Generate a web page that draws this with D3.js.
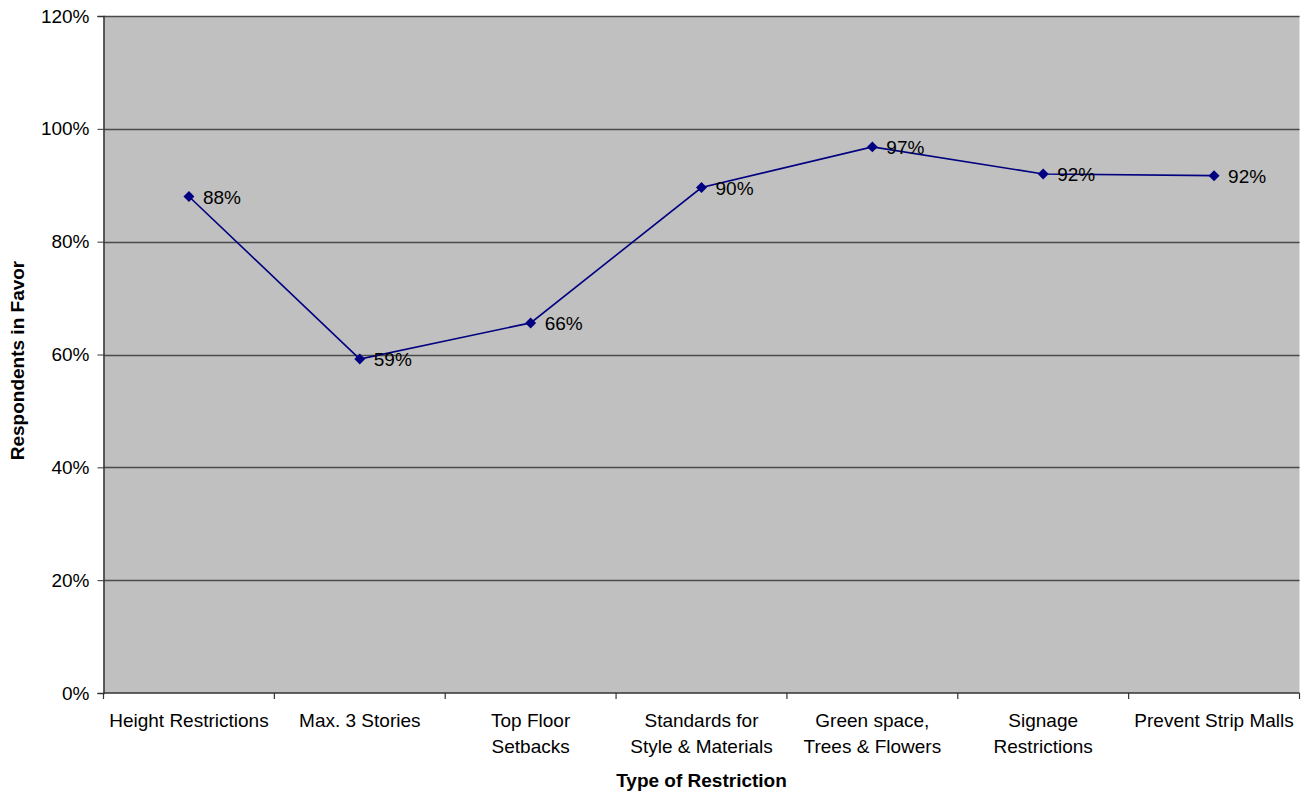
<!DOCTYPE html>
<html><head><meta charset="utf-8">
<script src="https://cdn.jsdelivr.net/npm/d3@7/dist/d3.min.js"></script>
<style>body{margin:0;background:#fff}svg{display:block;font-family:"Liberation Sans",Arial,sans-serif}</style>
</head><body><svg id="c" width="1309" height="795"></svg>
<script>
const categories = [["Height Restrictions"],["Max. 3 Stories"],["Top Floor","Setbacks"],["Standards for","Style & Materials"],["Green space,","Trees & Flowers"],["Signage","Restrictions"],["Prevent Strip Malls"]];
const values = [0.88, 0.592, 0.656, 0.896, 0.968, 0.92, 0.917];
const valueLabels = ["88%","59%","66%","90%","97%","92%","92%"];
const yTicks = [0,0.2,0.4,0.6,0.8,1.0,1.2];
const xTitle = "Type of Restriction";
const yTitle = "Respondents in Favor";

const svg = d3.select("#c");
const L=103.5, R=1299.5, T=16, B=693;
const FS = 19;
const x = d3.scaleBand().domain(d3.range(categories.length)).range([L,R]).paddingInner(0).paddingOuter(0);
const y = d3.scaleLinear().domain([0,1.2]).range([B,T]);

svg.append("rect").attr("x",L).attr("y",T).attr("width",R-L).attr("height",B-T).attr("fill","#c0c0c0");
svg.append("g").selectAll("line").data(yTicks.filter(d=>d>0)).join("line")
  .attr("x1",L).attr("x2",R).attr("y1",d=>Math.round(y(d))+0.5).attr("y2",d=>Math.round(y(d))+0.5)
  .attr("stroke","#4a4a4a").attr("stroke-width",1.3);

// y axis
const ya = svg.append("g").attr("transform",`translate(${L},0)`)
  .call(d3.axisLeft(y).tickValues(yTicks).tickFormat(d3.format(".0%")).tickSizeOuter(0).tickSize(6));
ya.select(".domain").attr("stroke","#333").attr("stroke-width",1.5);
ya.selectAll(".tick line").attr("stroke","#333");
ya.selectAll("text").attr("font-size",FS).attr("fill","#000").attr("font-family","Liberation Sans, Arial, sans-serif").attr("x",-14);

// x axis
const xa = svg.append("g").attr("transform",`translate(0,${B})`);
xa.append("line").attr("x1",L).attr("x2",R).attr("y1",0).attr("y2",0).attr("stroke","#333").attr("stroke-width",1.5);
const bounds = d3.range(categories.length+1).map(i=> i<categories.length ? x(i) : R);
xa.selectAll("line.t").data(bounds).join("line").attr("class","t")
  .attr("x1",d=>d).attr("x2",d=>d).attr("y1",0).attr("y2",6).attr("stroke","#333").attr("stroke-width",1.2);
const xl = xa.selectAll("text.c").data(categories).join("text").attr("class","c")
  .attr("text-anchor","middle").attr("font-size",FS).attr("fill","#000")
  .attr("x",(d,i)=>x(i)+x.bandwidth()/2).attr("y",34);
xl.selectAll("tspan").data(d=>d).join("tspan").attr("x",function(){return this.parentNode.getAttribute("x");})
  .attr("dy",(d,i)=>i===0?0:26).text(d=>d);

// titles
svg.append("text").attr("x",(L+R)/2).attr("y",787).attr("text-anchor","middle").attr("font-size",FS).attr("font-weight","bold").text(xTitle);
svg.append("text").attr("transform",`translate(24,${(T+B)/2+6}) rotate(-90)`).attr("text-anchor","middle").attr("font-size",FS).attr("font-weight","bold").text(yTitle);

// line
const cx = i=>x(i)+x.bandwidth()/2;
svg.append("path").datum(values).attr("fill","none").attr("stroke","#000080").attr("stroke-width",1.6)
  .attr("d",d3.line().x((d,i)=>cx(i)).y(d=>y(d)));
svg.append("g").selectAll("path").data(values).join("path")
  .attr("transform",(d,i)=>`translate(${cx(i)},${y(d)}) rotate(45)`)
  .attr("d",d3.symbol(d3.symbolSquare,60)).attr("fill","#000080");
svg.append("g").selectAll("text").data(values).join("text")
  .attr("x",(d,i)=>cx(i)+14).attr("y",d=>y(d)+7).attr("font-size",FS).attr("fill","#000").text((d,i)=>valueLabels[i]);
</script></body></html>
